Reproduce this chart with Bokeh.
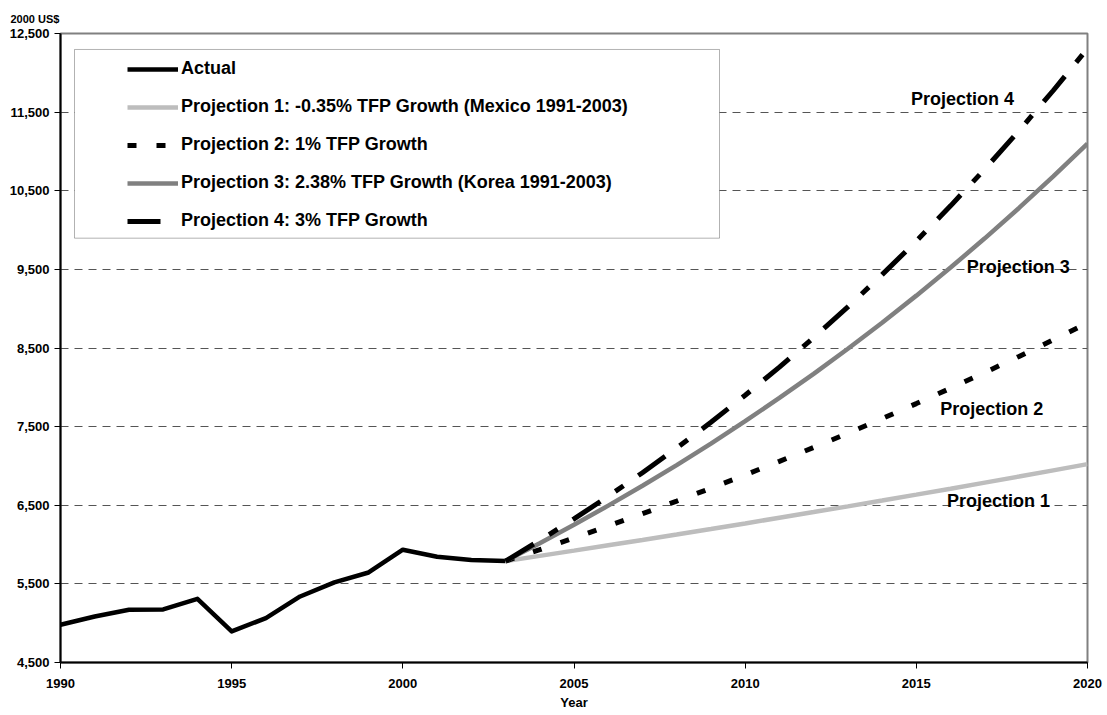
from bokeh.plotting import figure
from bokeh.models import (Legend, LegendItem, Label, BoxAnnotation, FixedTicker,
                          NumeralTickFormatter, Range1d)
from bokeh.embed import file_html
from bokeh.resources import INLINE

# ---------------- data ----------------
years_actual = [1990, 1991, 1992, 1993, 1994, 1995, 1996, 1997, 1998, 1999,
                2000, 2001, 2002, 2003]
actual = [4980, 5085, 5170, 5175, 5310, 4895, 5065, 5340, 5520, 5645,
          5935, 5845, 5805, 5790]

years_proj = [2003, 2004, 2005, 2006, 2007, 2008, 2009, 2010, 2011, 2012,
              2013, 2014, 2015, 2016, 2017, 2018, 2019, 2020]
proj1 = [5790, 5856, 5923, 5991, 6059, 6128, 6198, 6269, 6341, 6413,
         6486, 6560, 6635, 6711, 6788, 6865, 6944, 7023]
proj2 = [5790, 5935, 6084, 6237, 6393, 6553, 6717, 6886, 7058, 7235,
         7416, 7602, 7793, 7988, 8188, 8393, 8604, 8819]
proj3 = [5790, 6016, 6251, 6495, 6748, 7011, 7285, 7569, 7865, 8171,
         8490, 8821, 9166, 9523, 9895, 10281, 10682, 11099]
proj4 = [5790, 6053, 6327, 6614, 6914, 7228, 7556, 7899, 8257, 8632,
         9023, 9433, 9860, 10308, 10775, 11264, 11775, 12309]

legend_labels = ["Actual",
                 "Projection 1: -0.35% TFP Growth (Mexico 1991-2003)",
                 "Projection 2: 1% TFP Growth",
                 "Projection 3: 2.38% TFP Growth (Korea 1991-2003)",
                 "Projection 4: 3% TFP Growth"]
line_labels = ["Projection 1", "Projection 2", "Projection 3", "Projection 4"]
unit_label = "2000 US$"

x_ticks = [1990, 1995, 2000, 2005, 2010, 2015, 2020]
y_ticks = [4500, 5500, 6500, 7500, 8500, 9500, 10500, 11500, 12500]
grid_ticks = [5500, 6500, 7500, 8500, 9500, 10500, 11500]

# ---------------- layout constants ----------------
X0, X1 = 1990, 2020
Y0, Y1 = 4500, 12500
FRAME_W, FRAME_H = 1027, 630
PX_YEAR = FRAME_W / (X1 - X0)
PX_UNIT = FRAME_H / (Y1 - Y0)

FONT = "Liberation Sans"

p = figure(width=1105, height=712, x_range=Range1d(X0, X1), y_range=Range1d(Y0, Y1),
           output_backend="svg", toolbar_location=None,
           min_border_left=60, min_border_right=18, min_border_top=33,
           min_border_bottom=49, background_fill_color="white",
           border_fill_color="white")

# unit label shown above the y axis
p.title.text = unit_label
p.title.align = "left"
p.title.offset = -50
p.title.standoff = 18
p.title.text_font = FONT
p.title.text_font_style = "bold"
p.title.text_font_size = "11px"
p.title.text_color = "black"

p.outline_line_color = "#808080"
p.outline_line_width = 2

p.xgrid.visible = False
p.ygrid.ticker = FixedTicker(ticks=grid_ticks)
p.ygrid.grid_line_color = "#555555"
p.ygrid.grid_line_dash = "8 6"
p.ygrid.grid_line_width = 1

for ax in (p.xaxis[0], p.yaxis[0]):
    ax.axis_line_color = "black"
    ax.axis_line_width = 2
    ax.major_tick_line_color = "black"
    ax.major_tick_line_width = 1
    ax.major_tick_in = 0
    ax.major_tick_out = 6
    ax.minor_tick_line_color = None
    ax.major_label_text_font = FONT
    ax.major_label_text_font_style = "bold"
    ax.major_label_text_font_size = "13px"
    ax.major_label_text_color = "black"

p.xaxis.ticker = FixedTicker(ticks=x_ticks)
p.xaxis.major_label_standoff = 10
p.xaxis.axis_label = "Year"
p.xaxis.axis_label_text_font = FONT
p.xaxis.axis_label_text_font_style = "bold"
p.xaxis.axis_label_text_font_size = "13px"
p.xaxis.axis_label_text_color = "black"
p.xaxis.axis_label_standoff = 4

p.yaxis.ticker = FixedTicker(ticks=y_ticks)
p.yaxis.formatter = NumeralTickFormatter(format="0,0")
p.yaxis.major_label_standoff = 5

# ---------------- lines ----------------
r_act = p.line(years_actual, actual, line_color="black", line_width=4.5,
               line_join="round")
r_p1 = p.line(years_proj, proj1, line_color="#BDBDBD", line_width=4.5)
r_p2 = p.line(years_proj, proj2, line_color="black", line_width=5,
              line_dash="9 20")
r_p3 = p.line(years_proj, proj3, line_color="#808080", line_width=4.5)
r_p4 = p.line(years_proj, proj4, line_color="black", line_width=5,
              line_dash="33 18 10 18")

# ---------------- legend box + legend ----------------
box = BoxAnnotation(left=X0 + 14 / PX_YEAR, right=X0 + 659 / PX_YEAR,
                    top=Y0 + 614 / PX_UNIT, bottom=Y0 + 425 / PX_UNIT,
                    fill_color="white", fill_alpha=1.0,
                    line_color="black", line_width=1, level="annotation")
p.add_layout(box)

items = [LegendItem(label=lab, renderers=[r])
         for lab, r in zip(legend_labels, [r_act, r_p1, r_p2, r_p3, r_p4])]
legend = Legend(items=items, location=(67, 431), padding=0, margin=0,
                spacing=17, glyph_width=51, glyph_height=20, label_height=20,
                label_standoff=3, label_text_font=FONT,
                label_text_font_style="bold", label_text_font_size="18px",
                label_text_color="black",
                border_line_color=None, background_fill_alpha=0)
p.add_layout(legend)

# ---------------- labels ----------------
label_pos = [(2017.40, 6548), (2017.20, 7725), (2017.98, 9529), (2016.35, 11662)]
for txt, (lx, ly) in zip(line_labels, label_pos):
    p.add_layout(Label(x=lx, y=ly, text=txt, text_align="center",
                       text_baseline="middle", text_font=FONT,
                       text_font_style="bold", text_font_size="18px",
                       text_color="black"))

open("out.html", "w").write(file_html(p, INLINE))
